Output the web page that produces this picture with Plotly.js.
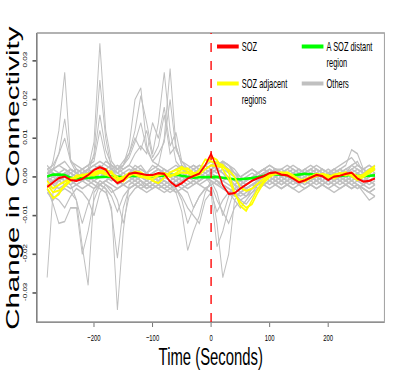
<!DOCTYPE html>
<html>
<head>
<meta charset="utf-8">
<script src="https://cdn.plot.ly/plotly-3.0.1.min.js"></script>
<style>
  html, body { margin: 0; padding: 0; background: #fff; overflow: hidden; }
  /* the original figure is a horizontally squeezed R plot: draw wide, then squeeze */
  #graphDiv { width: 634px; height: 377px; transform: scaleX(0.62); transform-origin: 0 0; }
</style>
</head>
<body>
<div id="graphDiv"></div>
<script>
// time axis (seconds, 0 = seizure onset)
let tiempo = [-280,-270,-260,-250,-240,-230,-220,-210,-200,-190,
  -180,-170,-160,-150,-140,-130,-120,-110,-100,-90,
  -80,-70,-60,-50,-40,-30,-20,-10,0,10,
  20,30,40,50,60,70,80,90,100,110,
  120,130,140,150,160,170,180,190,200,210,
  220,230,240,250,260,270,280];

// SOZ (red)
let soz = [-0.0026,-0.0015,-0.0003,0.0001,-0.0008,-0.0010,-0.0005,0.0005,0.0018,0.0025,
  0.0019,-0.0003,-0.0016,-0.0009,0.0008,0.0011,0.0008,0.0005,0.0005,0.0010,
  0.0008,-0.0012,-0.0024,-0.0016,-0.0004,0.0003,0.0009,0.0030,0.0060,0.0022,
  -0.0022,-0.0044,-0.0042,-0.0030,-0.0019,-0.0010,-0.0003,0.0002,0.0010,0.0012,
  0.0006,0.0004,-0.0004,-0.0014,-0.0009,-0.0002,0.0005,0.0002,-0.0008,0.0001,
  0.0003,0.0008,0.0011,-0.0004,-0.0012,-0.0010,-0.0004];

// A SOZ distant region (green)
let distante = [0.0001,0.0006,0.0006,0.0005,-0.0002,-0.0004,-0.0003,-0.0002,-0.0001,0.0000,
  0.0001,0.0001,0.0000,-0.0001,0.0002,0.0003,0.0002,0.0000,0.0002,0.0004,
  0.0003,0.0004,0.0006,0.0003,0.0000,-0.0002,-0.0001,-0.0001,0.0000,0.0000,
  -0.0002,-0.0004,-0.0006,-0.0006,-0.0005,-0.0003,0.0000,0.0003,0.0006,0.0007,
  0.0006,0.0005,0.0004,0.0006,0.0008,0.0007,0.0006,0.0005,0.0003,0.0001,
  0.0002,0.0004,0.0005,0.0003,0.0002,0.0003,0.0004];

// SOZ adjacent regions (yellow)
let adyacente1 = [-0.0030,-0.0055,-0.0045,-0.0020,-0.0008,0.0000,0.0004,0.0008,0.0012,0.0016,
  0.0010,0.0014,-0.0010,-0.0004,0.0006,0.0014,0.0012,0.0002,-0.0010,-0.0016,
  -0.0002,0.0012,0.0018,0.0026,0.0014,0.0004,0.0018,0.0045,0.0040,0.0036,
  0.0031,0.0012,-0.0040,-0.0075,-0.0088,-0.0060,-0.0030,-0.0010,0.0004,0.0010,
  0.0012,0.0008,0.0002,-0.0006,-0.0010,-0.0004,0.0004,0.0006,0.0000,0.0004,
  0.0010,0.0008,0.0006,-0.0002,0.0006,0.0018,0.0028];
let adyacente2 = [-0.0020,-0.0040,-0.0035,-0.0025,-0.0010,0.0004,0.0002,0.0006,0.0004,0.0010,
  0.0020,0.0008,0.0000,-0.0012,0.0002,0.0010,0.0006,-0.0004,-0.0006,0.0004,
  0.0008,0.0000,0.0010,0.0020,0.0022,0.0010,0.0010,0.0030,0.0052,0.0044,
  0.0020,-0.0005,-0.0045,-0.0065,-0.0080,-0.0070,-0.0040,-0.0015,0.0000,0.0008,
  0.0010,0.0012,0.0004,-0.0008,-0.0012,0.0000,0.0002,0.0008,0.0004,-0.0004,
  0.0004,0.0012,0.0002,-0.0008,0.0000,0.0010,0.0020];
let adyacente3 = [-0.0010,-0.0030,-0.0020,-0.0012,-0.0004,-0.0002,0.0006,0.0002,0.0008,0.0012,
  0.0006,0.0000,-0.0006,0.0000,0.0010,0.0006,0.0000,-0.0002,0.0002,0.0006,
  0.0010,0.0004,0.0006,0.0012,0.0010,0.0002,0.0006,0.0020,0.0030,0.0028,
  0.0026,0.0018,0.0000,-0.0028,-0.0036,-0.0030,-0.0016,-0.0004,0.0006,0.0012,
  0.0008,0.0004,-0.0002,-0.0010,-0.0006,0.0002,0.0008,0.0004,-0.0002,0.0006,
  0.0008,0.0004,0.0010,0.0002,0.0004,0.0014,0.0022];

// Others (gray)
let otros1 = [-0.0010,0.0040,0.0120,0.0270,0.0045,0.0020,0.0010,0.0000,0.0010,0.0020,
  0.0015,0.0000,-0.0010,0.0000,0.0010,0.0020,0.0010,0.0000,0.0010,0.0020,
  0.0010,0.0000,-0.0010,0.0000,0.0010,0.0000,0.0010,0.0020,0.0030,0.0020,
  0.0010,-0.0010,-0.0020,-0.0030,-0.0020,-0.0010,0.0000,0.0010,0.0010,0.0020,
  0.0010,0.0000,0.0010,0.0000,-0.0010,0.0000,0.0010,0.0020,0.0010,0.0000,
  0.0010,0.0000,-0.0010,0.0000,0.0010,0.0020,0.0010];
let otros2 = [0.0000,0.0020,0.0060,0.0150,0.0040,0.0010,0.0020,0.0010,0.0060,0.0250,
  0.0100,0.0020,0.0000,0.0010,0.0020,0.0010,0.0000,-0.0010,0.0000,0.0010,
  0.0020,0.0010,0.0000,0.0010,0.0020,0.0030,0.0020,0.0010,0.0020,0.0030,
  0.0040,0.0030,0.0010,-0.0010,-0.0020,-0.0010,0.0000,0.0010,0.0020,0.0010,
  0.0000,-0.0010,0.0000,0.0010,0.0020,0.0010,0.0000,0.0010,0.0000,-0.0010,
  0.0000,0.0010,0.0020,0.0010,0.0000,0.0010,0.0020];
let otros3 = [0.0010,0.0000,0.0010,0.0020,0.0010,0.0000,0.0010,0.0020,0.0090,0.0345,
  0.0120,0.0040,0.0020,0.0010,0.0000,0.0010,0.0020,0.0010,0.0000,-0.0010,
  0.0000,0.0010,0.0020,0.0010,0.0000,0.0010,0.0020,0.0030,0.0020,0.0030,
  0.0035,0.0020,0.0000,-0.0010,-0.0020,-0.0010,0.0000,0.0010,0.0000,0.0010,
  0.0020,0.0010,0.0000,-0.0010,0.0000,0.0010,0.0020,0.0010,0.0000,0.0010,
  0.0000,-0.0010,0.0000,0.0010,0.0020,0.0010,0.0000];
let otros4 = [0.0020,0.0010,0.0000,0.0010,0.0020,0.0010,0.0000,0.0010,0.0020,0.0030,
  0.0020,0.0010,0.0020,0.0030,0.0080,0.0200,0.0230,0.0080,0.0040,0.0030,
  0.0100,0.0280,0.0080,0.0030,0.0010,0.0000,0.0010,0.0020,0.0010,0.0020,
  0.0030,0.0020,0.0000,-0.0020,-0.0010,0.0000,0.0010,0.0000,0.0010,0.0020,
  0.0010,0.0000,-0.0010,0.0000,0.0010,0.0000,-0.0010,0.0000,0.0010,0.0000,
  0.0010,0.0020,0.0010,0.0000,-0.0010,0.0000,0.0010];
let otros5 = [0.0000,-0.0010,0.0000,0.0010,0.0000,-0.0010,0.0000,0.0010,0.0000,0.0010,
  0.0020,0.0030,0.0020,0.0040,0.0060,0.0120,0.0210,0.0140,0.0060,0.0140,
  0.0270,0.0120,0.0040,0.0020,0.0010,0.0000,-0.0010,0.0000,0.0010,0.0020,
  0.0010,0.0000,-0.0010,-0.0020,-0.0030,-0.0020,-0.0010,0.0000,0.0010,0.0000,
  -0.0010,0.0000,0.0010,0.0000,-0.0010,0.0000,0.0010,0.0000,-0.0010,0.0000,
  0.0000,0.0010,0.0000,-0.0010,-0.0020,-0.0010,0.0000];
let otros6 = [0.0010,0.0020,0.0010,0.0000,0.0010,0.0020,0.0010,0.0020,0.0030,0.0040,
  0.0030,0.0020,0.0030,0.0020,0.0030,0.0060,0.0080,0.0060,0.0140,0.0100,
  0.0180,0.0080,0.0115,0.0040,0.0020,0.0010,0.0020,0.0030,0.0020,0.0030,
  0.0040,0.0030,0.0020,0.0000,-0.0010,0.0000,0.0010,0.0020,0.0010,0.0000,
  0.0010,0.0020,0.0010,0.0000,0.0010,0.0020,0.0010,0.0000,0.0010,0.0020,
  0.0010,0.0000,0.0010,0.0020,0.0010,0.0000,0.0010];
let otros7 = [-0.0260,-0.0040,-0.0020,-0.0010,-0.0020,-0.0060,-0.0180,-0.0280,-0.0040,-0.0020,
  -0.0010,0.0000,-0.0010,-0.0020,-0.0010,0.0000,-0.0010,-0.0020,-0.0010,0.0000,
  -0.0010,-0.0020,-0.0010,0.0000,-0.0010,-0.0020,-0.0010,0.0000,0.0010,0.0000,
  -0.0010,-0.0020,-0.0030,-0.0040,-0.0030,-0.0020,-0.0010,0.0000,-0.0010,-0.0020,
  -0.0010,0.0000,-0.0010,-0.0020,-0.0010,0.0000,-0.0010,-0.0020,-0.0010,0.0000,
  -0.0010,-0.0020,-0.0010,0.0000,-0.0010,-0.0020,-0.0010];
let otros8 = [-0.0030,-0.0070,-0.0120,-0.0115,-0.0080,-0.0080,-0.0200,-0.0140,-0.0060,-0.0020,
  -0.0010,-0.0020,-0.0030,-0.0020,-0.0010,-0.0020,-0.0030,-0.0020,-0.0010,-0.0020,
  -0.0030,-0.0020,-0.0010,-0.0020,-0.0030,-0.0020,-0.0010,0.0000,-0.0010,-0.0020,
  -0.0010,0.0000,-0.0020,-0.0040,-0.0050,-0.0030,-0.0020,-0.0010,-0.0020,-0.0010,
  0.0000,-0.0010,-0.0020,-0.0010,0.0000,-0.0010,-0.0020,-0.0010,0.0000,-0.0010,
  -0.0020,-0.0010,0.0000,-0.0010,-0.0020,-0.0030,-0.0020];
let otros9 = [-0.0020,-0.0010,0.0000,-0.0010,-0.0020,-0.0010,0.0000,-0.0010,-0.0020,-0.0030,
  -0.0040,-0.0080,-0.0344,-0.0140,-0.0020,-0.0010,0.0000,-0.0010,-0.0020,-0.0010,
  0.0000,-0.0010,-0.0020,-0.0010,0.0000,-0.0010,-0.0020,-0.0010,0.0000,-0.0010,
  -0.0020,-0.0030,-0.0040,-0.0060,-0.0050,-0.0030,-0.0010,0.0000,-0.0010,0.0000,
  0.0010,0.0000,-0.0010,0.0000,0.0010,0.0000,-0.0010,0.0000,0.0010,0.0000,
  -0.0010,0.0000,0.0010,0.0000,-0.0010,0.0000,0.0010];
let otros10 = [0.0000,-0.0020,-0.0030,-0.0020,-0.0010,-0.0020,-0.0030,-0.0020,-0.0010,-0.0020,
  -0.0030,-0.0090,-0.0210,-0.0080,-0.0030,-0.0020,-0.0010,-0.0020,-0.0030,-0.0020,
  -0.0010,-0.0020,-0.0040,-0.0090,-0.0190,-0.0140,-0.0100,-0.0040,-0.0010,-0.0020,
  -0.0030,-0.0040,-0.0060,-0.0080,-0.0060,-0.0040,-0.0020,-0.0010,0.0000,-0.0010,
  -0.0020,-0.0010,0.0000,-0.0010,-0.0020,-0.0010,0.0000,-0.0010,-0.0020,-0.0010,
  0.0000,-0.0010,-0.0020,-0.0030,-0.0020,-0.0010,-0.0020];
let otros11 = [0.0010,0.0000,-0.0010,0.0000,0.0010,0.0000,-0.0010,0.0000,0.0010,0.0020,
  0.0010,0.0000,-0.0010,0.0000,0.0010,0.0020,0.0010,0.0000,0.0010,0.0020,
  0.0010,0.0000,-0.0010,0.0000,0.0010,0.0020,0.0010,0.0000,-0.0020,-0.0120,
  -0.0260,-0.0200,-0.0060,-0.0040,-0.0030,-0.0020,-0.0010,0.0000,0.0010,0.0020,
  0.0010,0.0000,0.0010,0.0020,0.0010,0.0000,0.0010,0.0020,0.0010,0.0010,
  0.0020,0.0030,0.0070,0.0060,0.0020,0.0010,0.0020];
let otros12 = [-0.0010,0.0000,0.0010,0.0000,-0.0010,0.0000,0.0010,0.0000,-0.0010,0.0000,
  0.0010,0.0000,-0.0010,-0.0020,-0.0010,0.0000,-0.0010,-0.0020,-0.0010,0.0000,
  -0.0010,-0.0020,-0.0030,-0.0050,-0.0080,-0.0100,-0.0120,-0.0060,-0.0040,-0.0180,
  -0.0140,-0.0080,-0.0030,-0.0020,-0.0010,0.0000,-0.0010,-0.0020,-0.0010,0.0000,
  -0.0010,-0.0020,-0.0010,0.0000,-0.0010,-0.0020,-0.0010,0.0000,-0.0010,-0.0020,
  -0.0010,0.0000,-0.0010,-0.0020,-0.0040,-0.0060,-0.0050];
let otros13 = [0.0030,0.0010,-0.0010,0.0000,0.0020,0.0010,0.0000,0.0020,0.0030,0.0020,
  0.0040,0.0030,0.0010,0.0020,0.0030,0.0020,0.0030,0.0010,0.0020,0.0030,
  0.0020,0.0010,0.0020,0.0030,0.0020,0.0030,0.0020,0.0030,0.0040,0.0030,
  0.0040,0.0030,0.0010,0.0000,0.0010,0.0020,0.0010,0.0020,0.0030,0.0020,
  0.0020,0.0030,0.0020,0.0010,0.0020,0.0030,0.0020,0.0010,0.0020,0.0010,
  0.0020,0.0010,0.0020,0.0030,0.0020,0.0030,0.0020];
let otros14 = [-0.0020,-0.0030,-0.0010,-0.0020,-0.0030,-0.0020,-0.0010,-0.0020,-0.0030,-0.0010,
  -0.0020,-0.0040,-0.0030,-0.0020,-0.0030,-0.0020,-0.0010,-0.0030,-0.0020,-0.0030,
  -0.0020,-0.0030,-0.0040,-0.0030,-0.0020,-0.0010,-0.0020,-0.0030,-0.0020,-0.0010,
  -0.0030,-0.0040,-0.0050,-0.0040,-0.0030,-0.0020,-0.0030,-0.0020,-0.0010,-0.0020,
  -0.0010,-0.0020,-0.0030,-0.0020,-0.0010,-0.0020,-0.0030,-0.0020,-0.0010,-0.0020,
  -0.0030,-0.0020,-0.0010,-0.0020,-0.0030,-0.0040,-0.0030];
let otros15 = [0.0010,0.0020,0.0030,0.0020,0.0010,0.0000,0.0010,0.0020,0.0010,0.0000,
  0.0010,0.0020,0.0010,0.0000,0.0010,0.0030,0.0020,0.0010,0.0030,0.0020,
  0.0010,0.0020,0.0030,0.0020,0.0010,0.0020,0.0030,0.0020,0.0030,0.0040,
  0.0030,0.0020,0.0010,-0.0010,-0.0020,-0.0010,0.0010,0.0020,0.0010,0.0020,
  0.0010,0.0000,0.0010,0.0020,0.0010,0.0020,0.0010,0.0000,0.0010,0.0020,
  0.0010,0.0020,0.0030,0.0020,0.0010,0.0020,0.0030];
let otros16 = [-0.0010,-0.0020,-0.0010,0.0000,-0.0010,-0.0020,-0.0010,0.0000,-0.0010,-0.0020,
  -0.0010,0.0000,-0.0020,-0.0010,0.0000,-0.0010,-0.0020,-0.0010,0.0000,-0.0010,
  -0.0020,-0.0010,0.0000,-0.0010,-0.0020,-0.0010,0.0000,0.0010,0.0000,-0.0010,
  -0.0020,-0.0030,-0.0040,-0.0050,-0.0040,-0.0030,-0.0020,-0.0010,0.0000,-0.0010,
  -0.0020,-0.0010,0.0000,-0.0010,-0.0020,-0.0010,0.0000,-0.0010,-0.0020,-0.0010,
  0.0000,-0.0010,-0.0020,-0.0010,0.0000,-0.0010,-0.0020];
let otros17 = [0.0000,0.0010,0.0000,-0.0010,0.0000,0.0010,0.0000,-0.0010,0.0000,0.0010,
  0.0000,-0.0010,0.0000,0.0010,0.0000,-0.0010,0.0000,0.0010,0.0000,-0.0010,
  0.0000,0.0010,0.0000,-0.0010,0.0000,0.0010,0.0020,0.0010,0.0020,0.0010,
  0.0020,0.0010,0.0000,-0.0010,-0.0020,-0.0010,0.0000,0.0010,0.0000,-0.0010,
  0.0000,0.0010,0.0000,-0.0010,0.0000,0.0010,0.0000,-0.0010,0.0000,0.0010,
  0.0000,-0.0010,0.0000,0.0010,0.0000,-0.0010,0.0000];
let otros18 = [0.0020,0.0030,0.0060,0.0100,0.0040,0.0030,0.0020,0.0030,0.0050,0.0160,
  0.0070,0.0030,0.0020,0.0030,0.0050,0.0090,0.0140,0.0070,0.0040,0.0060,
  0.0090,0.0200,0.0070,0.0040,0.0030,0.0020,0.0030,0.0020,0.0030,0.0040,
  0.0030,0.0020,0.0010,0.0000,0.0010,0.0020,0.0010,0.0020,0.0030,0.0020,
  0.0010,0.0020,0.0030,0.0020,0.0010,0.0020,0.0030,0.0020,0.0010,0.0020,
  0.0030,0.0040,0.0050,0.0030,0.0020,0.0030,0.0020];
let otros19 = [0.0010,0.0020,0.0030,0.0040,0.0020,0.0010,0.0020,0.0030,0.0040,0.0120,
  0.0050,0.0020,0.0010,0.0030,0.0060,0.0100,0.0070,0.0120,0.0050,0.0080,
  0.0160,0.0060,0.0080,0.0030,0.0010,0.0000,0.0010,0.0000,-0.0010,-0.0040,
  -0.0100,-0.0050,-0.0020,-0.0010,0.0000,0.0010,0.0000,0.0010,0.0020,0.0010,
  0.0000,0.0010,0.0020,0.0010,0.0000,0.0010,0.0020,0.0010,0.0000,0.0010,
  0.0020,0.0010,0.0030,0.0040,0.0010,0.0000,0.0010];
let otros20 = [-0.0040,-0.0060,-0.0040,-0.0030,-0.0040,-0.0060,-0.0120,-0.0070,-0.0030,-0.0020,
  -0.0030,-0.0050,-0.0090,-0.0050,-0.0030,-0.0020,-0.0030,-0.0040,-0.0030,-0.0020,
  -0.0030,-0.0040,-0.0030,-0.0060,-0.0120,-0.0080,-0.0050,-0.0030,-0.0020,-0.0060,
  -0.0090,-0.0120,-0.0080,-0.0060,-0.0070,-0.0050,-0.0030,-0.0020,-0.0010,-0.0020,
  -0.0030,-0.0020,-0.0010,-0.0020,-0.0030,-0.0020,-0.0010,-0.0020,-0.0030,-0.0020,
  -0.0010,-0.0020,-0.0030,-0.0020,-0.0030,-0.0040,-0.0050];
let otros21 = [-0.0030,-0.0050,-0.0060,-0.0080,-0.0050,-0.0030,-0.0040,-0.0060,-0.0100,-0.0040,
  -0.0020,-0.0030,-0.0060,-0.0120,-0.0050,-0.0030,-0.0020,-0.0030,-0.0020,-0.0030,
  -0.0040,-0.0030,-0.0020,-0.0030,-0.0040,-0.0080,-0.0050,-0.0030,-0.0040,-0.0090,
  -0.0060,-0.0040,-0.0030,-0.0040,-0.0050,-0.0040,-0.0030,-0.0020,-0.0030,-0.0020,
  -0.0030,-0.0020,-0.0030,-0.0040,-0.0030,-0.0020,-0.0030,-0.0020,-0.0030,-0.0040,
  -0.0030,-0.0020,-0.0030,-0.0020,-0.0030,-0.0040,-0.0030];

let xTicks = [-200, -100, 0, 100, 200];
let yTicks = [-0.03, -0.02, -0.01, 0.00, 0.01, 0.02, 0.03];
let yTickText = ['-0.03', '-0.02', '-0.01', '0.00', '0.01', '0.02', '0.03'];

// legend entries (each in its own little legend box so they sit in a 2x2 grid)
let nombresLeyenda = ['SOZ', 'A SOZ distant<br>region', 'SOZ adjacent<br>regions', 'Others'];
let coloresLeyenda = ['#ff0000', '#00ff00', '#ffff00', '#c0c0c0'];
let cajasLeyenda = ['legend', 'legend2', 'legend3', 'legend4'];

let fuente = 'Liberation Sans, Arial, sans-serif';

let otros = [otros1, otros2, otros3, otros4, otros5, otros6, otros7, otros8, otros9,
  otros10, otros11, otros12, otros13, otros14, otros15, otros16, otros17,
  otros18, otros19, otros20, otros21];
let adyacentes = [adyacente1, adyacente2, adyacente3];

let data = [];
for (let i = 0; i < otros.length; i++) {
  data.push({
    x: tiempo, y: otros[i], mode: 'lines', type: 'scatter', showlegend: false,
    line: {color: '#c0c0c0', width: 1.6}
  });
}
data.push({
  x: tiempo, y: distante, mode: 'lines', type: 'scatter', showlegend: false,
  line: {color: '#00ff00', width: 2.6}
});
for (let i = 0; i < adyacentes.length; i++) {
  data.push({
    x: tiempo, y: adyacentes[i], mode: 'lines', type: 'scatter', showlegend: false,
    line: {color: '#ffff00', width: 2.2}
  });
}
data.push({
  x: tiempo, y: soz, mode: 'lines', type: 'scatter', showlegend: false,
  line: {color: '#ff0000', width: 2.2}
});
// legend-only entries with thick keys
for (let i = 0; i < nombresLeyenda.length; i++) {
  data.push({
    x: [null], y: [null], mode: 'lines', type: 'scatter',
    name: nombresLeyenda[i], legend: cajasLeyenda[i],
    line: {color: coloresLeyenda[i], width: 4}
  });
}

function cajaLeyenda(x, y) {
  return {
    x: x, y: y, xanchor: 'left', yanchor: 'top', valign: 'top',
    itemwidth: 35, bgcolor: 'rgba(0,0,0,0)', borderwidth: 0,
    font: {family: fuente, size: 12, color: '#000'}
  };
}

var layout = {
  width: 634, height: 377,
  margin: {l: 60, r: 14, t: 33, b: 55},
  paper_bgcolor: '#ffffff', plot_bgcolor: '#ffffff',
  showlegend: true,
  legend: cajaLeyenda(0.509, 1.003),
  legend2: cajaLeyenda(0.753, 1.003),
  legend3: cajaLeyenda(0.509, 0.875),
  legend4: cajaLeyenda(0.753, 0.875),
  xaxis: {
    range: [-297, 296], zeroline: false, showgrid: false,
    showline: true, linecolor: '#555', linewidth: 1,
    tickmode: 'array', tickvals: xTicks, ticks: 'outside', ticklen: 4, tickcolor: '#555',
    ticklabelstandoff: 3,
    tickfont: {family: fuente, size: 9.5, color: '#000'},
    title: {text: 'Time (Seconds)', standoff: 1,
      font: {family: fuente, size: 24, color: '#000'}}
  },
  yaxis: {
    range: [-0.0375, 0.0372], zeroline: false, showgrid: false,
    showline: true, linecolor: '#555', linewidth: 1.6,
    tickmode: 'array', tickvals: yTicks, ticktext: yTickText,
    ticks: 'outside', ticklen: 6, tickcolor: '#555', tickwidth: 1.6, tickangle: -90,
    ticklabelstandoff: 6,
    tickfont: {family: fuente, size: 8, color: '#000'}
  },
  annotations: [
    {text: 'Change in Connectivity', xref: 'paper', yref: 'paper',
      x: -0.0725, y: 0.5, xanchor: 'center', yanchor: 'middle', textangle: -90,
      showarrow: false, font: {family: fuente, size: 29.5, color: '#000'}}
  ],
  shapes: [
    {type: 'rect', xref: 'paper', yref: 'paper', x0: 0, x1: 1, y0: 0, y1: 1,
      line: {color: '#999', width: 1.5}},
    {type: 'line', xref: 'x', yref: 'paper', x0: 0, x1: 0, y0: 0, y1: 1,
      line: {color: '#ff0000', width: 2.2, dash: 'dash'}}
  ]
};

Plotly.newPlot('graphDiv', data, layout, {displayModeBar: false, staticPlot: true});
</script>
</body>
</html>
